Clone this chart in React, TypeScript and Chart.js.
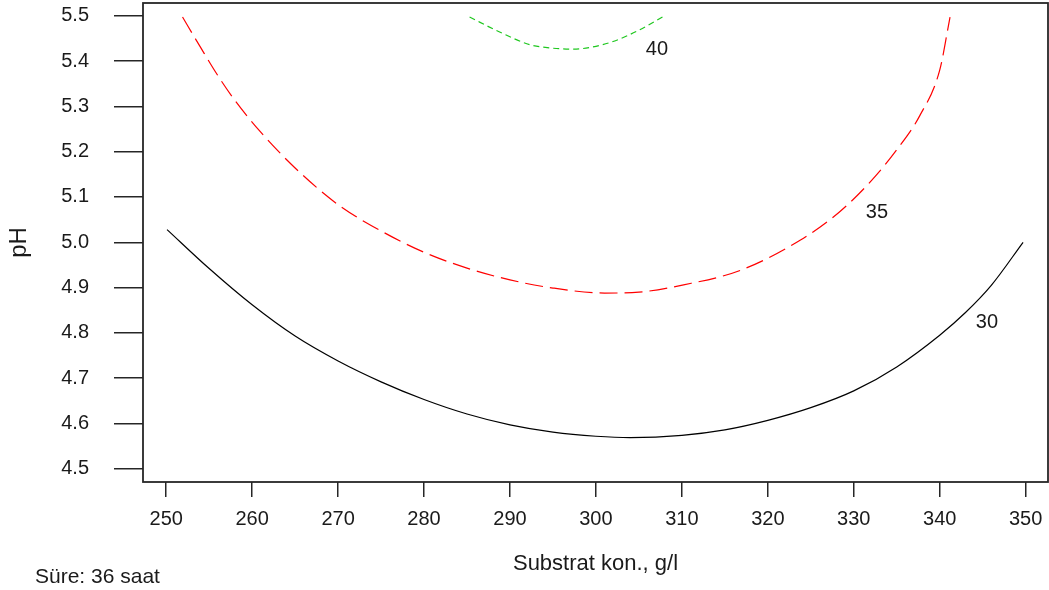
import React, { useEffect, useRef } from "react";
import { Chart, registerables } from "chart.js";

Chart.register(...registerables);

// Tick values
const xTicks = [250, 260, 270, 280, 290, 300, 310, 320, 330, 340, 350];
const yTicks = [4.5, 4.6, 4.7, 4.8, 4.9, 5.0, 5.1, 5.2, 5.3, 5.4, 5.5];

// Contour level 30 (black, solid)
const c30X = [250.1, 255, 260, 265, 270, 275, 280, 285, 290, 295, 300, 304, 310, 315, 320, 325, 330, 335, 340, 343, 346, 349.7];
const c30Y = [5.028, 4.942, 4.862, 4.793, 4.738, 4.692, 4.653, 4.621, 4.597, 4.581, 4.572, 4.569, 4.574, 4.586, 4.607, 4.635, 4.672, 4.725, 4.795, 4.845, 4.905, 5.0];

// Contour level 35 (red, dashed)
const c35X = [251.9, 254, 256, 258, 261, 265, 270, 275, 280, 285, 290, 295, 301, 305, 310.2, 316.8, 323.8, 328.4, 332, 335, 337.7, 340, 341.2];
const c35Y = [5.497, 5.43, 5.368, 5.313, 5.243, 5.164, 5.083, 5.025, 4.978, 4.943, 4.917, 4.899, 4.888, 4.89, 4.906, 4.938, 5.005, 5.068, 5.135, 5.204, 5.28, 5.38, 5.497];

// Contour level 40 (green, short dashes)
const c40X = [285.3, 288.8, 292.3, 294.6, 297.4, 299.3, 302, 305.1, 308];
const c40Y = [5.497, 5.464, 5.436, 5.429, 5.426, 5.43, 5.443, 5.469, 5.5];

// Contour labels
const labelText = ["30", "35", "40"];
const labelX = [345.5, 332.7, 307.1];
const labelY = [4.824, 5.065, 5.425];

const xTitle = "Substrat kon., g/l";
const yTitle = "pH";
const footnote = "Süre: 36 saat";

const FONT = "'Liberation Sans', Arial, sans-serif";
const TXT = "#1a1a1a";
const AXC = "#262626";

const zip = (xs: number[], ys: number[]) => xs.map((x, i) => ({ x, y: ys[i] }));

export default function App() {
  const ref = useRef<HTMLCanvasElement | null>(null);
  useEffect(() => {
    if (!ref.current) return;
    const framePlugin = {
      id: "frameAndLabels",
      afterDatasetsDraw(chart: any) {
        const { ctx, scales } = chart;
        ctx.save();
        ctx.font = `20px ${FONT}`;
        ctx.fillStyle = TXT;
        ctx.textAlign = "center";
        ctx.textBaseline = "middle";
        labelText.forEach((t, i) => {
          ctx.fillText(t, scales.x.getPixelForValue(labelX[i]), scales.y.getPixelForValue(labelY[i]));
        });
        ctx.restore();
      },
      afterDraw(chart: any) {
        const { ctx, chartArea } = chart;
        ctx.save();
        ctx.strokeStyle = AXC;
        ctx.lineWidth = 1.8;
        ctx.strokeRect(chartArea.left, chartArea.top, chartArea.right - chartArea.left, chartArea.bottom - chartArea.top);
        ctx.font = `21px ${FONT}`;
        ctx.fillStyle = TXT;
        ctx.textAlign = "left";
        ctx.textBaseline = "alphabetic";
        ctx.fillText(footnote, 35, 583);
        ctx.restore();
      },
    };

    const chart = new Chart(ref.current, {
      type: "scatter",
      data: {
        datasets: [
          {
            data: zip(c30X, c30Y),
            showLine: true,
            borderColor: "#000000",
            borderWidth: 1.2,
            pointRadius: 0,
            cubicInterpolationMode: "monotone",
          },
          {
            data: zip(c35X, c35Y),
            showLine: true,
            borderColor: "#ff0000",
            borderWidth: 1.2,
            borderDash: [18, 7],
            pointRadius: 0,
            cubicInterpolationMode: "monotone",
          },
          {
            data: zip(c40X, c40Y),
            showLine: true,
            borderColor: "#1fc71f",
            borderWidth: 1.2,
            borderDash: [6, 4],
            pointRadius: 0,
            cubicInterpolationMode: "monotone",
          },
        ],
      } as any,
      options: {
        responsive: false,
        devicePixelRatio: 1,
        animation: false,
        layout: { padding: { top: 3, right: 1, left: 0, bottom: 0 } },
        plugins: { legend: { display: false }, tooltip: { enabled: false } },
        scales: {
          x: {
            type: "linear",
            min: 247.3,
            max: 352.6,
            afterBuildTicks: (s: any) => {
              s.ticks = xTicks.map((v) => ({ value: v }));
            },
            afterFit: (s: any) => {
              s.height = 108;
              s.paddingLeft = 0;
              s.paddingRight = 0;
            },
            border: { display: false },
            grid: { drawOnChartArea: false, drawTicks: true, tickLength: 15, color: AXC, lineWidth: 1.5 },
            ticks: {
              padding: 10,
              color: TXT,
              font: { family: FONT, size: 20 },
              maxRotation: 0,
              autoSkip: false,
              callback: (v: any) => String(v),
            },
            title: {
              display: true,
              text: xTitle,
              color: TXT,
              font: { family: FONT, size: 22 },
              padding: { top: 0, bottom: 13 },
            },
          },
          y: {
            type: "linear",
            min: 4.471,
            max: 5.528,
            afterBuildTicks: (s: any) => {
              s.ticks = yTicks.map((v) => ({ value: v }));
            },
            afterFit: (s: any) => {
              s.width = 143;
              s.paddingTop = 0;
              s.paddingBottom = 0;
            },
            border: { display: false },
            grid: { drawOnChartArea: false, drawTicks: true, tickLength: 29, color: AXC, lineWidth: 1.5 },
            ticks: {
              padding: 25,
              color: TXT,
              font: { family: FONT, size: 20 },
              autoSkip: false,
              callback: (v: any) => Number(v).toFixed(1),
            },
            title: {
              display: true,
              text: yTitle,
              color: TXT,
              font: { family: FONT, size: 24 },
              padding: { top: 5, bottom: 0 },
            },
          },
        },
      } as any,
      plugins: [framePlugin],
    });
    return () => chart.destroy();
  }, []);

  return (
    <div style={{ position: "absolute", left: 0, top: 0, width: 1049, height: 590, background: "#fff" }}>
      <canvas ref={ref} width={1049} height={590} />
    </div>
  );
}
